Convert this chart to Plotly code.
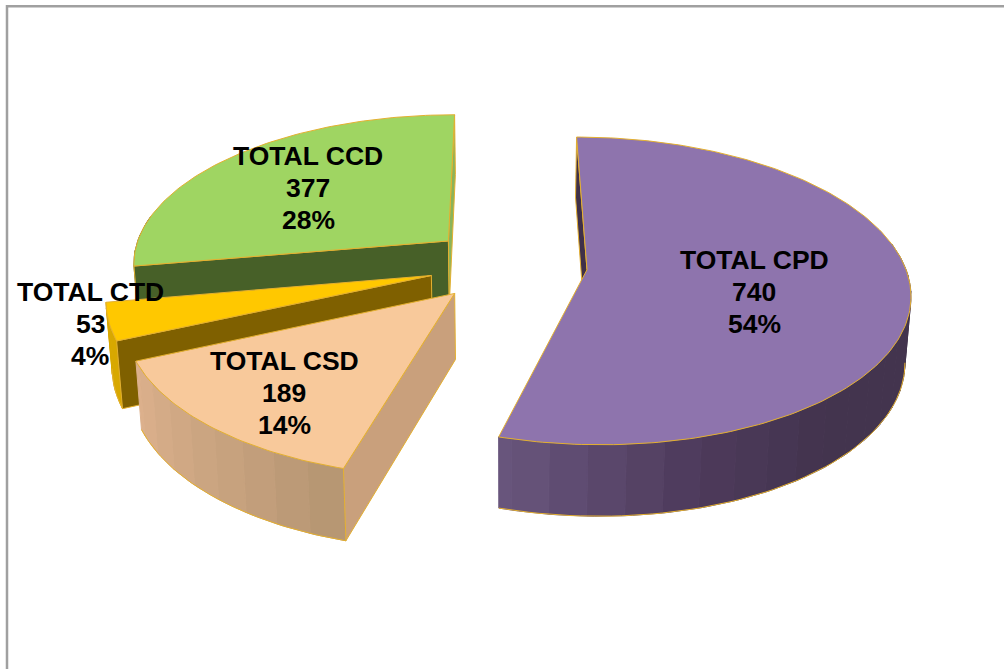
import numpy as np
import plotly.graph_objects as go

categories = ["TOTAL CPD", "TOTAL CSD", "TOTAL CTD", "TOTAL CCD"]
values = [740, 189, 53, 377]

# Style tables: view geometry and colours of the 3D exploded pie
TOP = {"TOTAL CPD": "#8e74ad", "TOTAL CSD": "#f8c99b", "TOTAL CTD": "#ffc800", "TOTAL CCD": "#9fd562"}
WALL_START = {"TOTAL CPD": "#3f3049", "TOTAL CSD": "#c9a07c", "TOTAL CTD": "#7f6000", "TOTAL CCD": "#476028"}
WALL_END = {"TOTAL CPD": "#3f3049", "TOTAL CSD": "#c9a07c", "TOTAL CTD": "#7f6000", "TOTAL CCD": "#8ab45a"}
RIM = {
    "TOTAL CPD": [(80, "#43344e"), (140, "#43344e"), (165, "#4e3b5c"), (194, "#68557c")],
    "TOTAL CSD": [(194, "#b39470"), (215, "#c6a17e"), (245, "#dcb08c")],
    "TOTAL CTD": [(244, "#d8a800"), (259, "#d8a800")],
    "TOTAL CCD": [(258, "#476028"), (360, "#476028")],
}
OUTLINE = "#e4b030"
LABEL_POS = {"TOTAL CPD": (754, 260), "TOTAL CSD": (284, 361), "TOTAL CTD": (90, 292), "TOTAL CCD": (308, 156)}
CX, CY, RX, RY, K, SKEW, EXPLODE, DEPTH, SHRINK = 508, 264.5, 317.5, 149.5, 0.137, 1, 0.25, 65, 0.985
RIM_FROM, RIM_TO, RIM_LINE_FROM = 80, 280, 100
LINE_GAP = 32
BAND_DEG = 6


def project(U, V, bottom=False):
    s = 1 / (1 - K * V)
    x = CX + (RX * U + SKEW * V) * s
    y = CY + RY * V * s
    if bottom:
        x = CX + (x - CX) * SHRINK
        y = y + DEPTH * (1 + 0.6 * (s - 1))
    return x, y


def hex_rgb(c):
    return np.array([int(c[i:i + 2], 16) for i in (1, 3, 5)], float)


def ramp(stops, t):
    ts = [a for a, _ in stops]
    cs = np.array([hex_rgb(c) for _, c in stops])
    rgb = [np.interp(t, ts, cs[:, i]) for i in range(3)]
    return "rgb(%d,%d,%d)" % tuple(rgb)


def poly(fig, x, y, fill, line=None, width=1):
    fig.add_trace(go.Scatter(
        x=list(x), y=list(y), mode="lines", fill="toself", fillcolor=fill,
        line=dict(color=line or fill, width=width), hoverinfo="skip", showlegend=False))


total = sum(values)
ends = np.cumsum(values) / total * 360
starts = np.concatenate([[0], ends[:-1]])
fig = go.Figure()

draw_order = ["TOTAL CCD", "TOTAL CTD", "TOTAL CSD", "TOTAL CPD"]
for name in draw_order:
    i = categories.index(name)
    a0, a1 = starts[i], ends[i]
    mid = np.radians((a0 + a1) / 2)
    ou, ov = EXPLODE * np.sin(mid), -EXPLODE * np.cos(mid)
    thetas = np.linspace(a0, a1, max(int(a1 - a0), 6) + 1)
    tr = np.radians(thetas)
    U, V = ou + np.sin(tr), ov - np.cos(tr)
    xt, yt = project(U, V)
    xb, yb = project(U, V, True)
    ax, ay = project(ou, ov)
    bx, by = project(ou, ov, True)

    # rim facets in bands, only on the side facing the viewer
    r0, r1 = max(a0, RIM_FROM), min(a1, RIM_TO)
    if r1 > r0:
        edges = np.arange(r0, r1 + BAND_DEG, BAND_DEG)
        edges[-1] = r1
        for t0, t1 in zip(edges[:-1], edges[1:]):
            if t1 <= t0:
                continue
            tt = np.radians(np.linspace(t0, t1, 6))
            u, v = ou + np.sin(tt), ov - np.cos(tt)
            xa, ya = project(u, v)
            xc, yc = project(u, v, True)
            col = ramp(RIM[name], (t0 + t1) / 2)
            poly(fig, list(xa) + list(xc[::-1]) + [xa[0]], list(ya) + list(yc[::-1]) + [ya[0]], col, col, 1)
        tt = np.radians(np.linspace(max(r0, RIM_LINE_FROM), r1, 60))
        xl, yl = project(ou + np.sin(tt), ov - np.cos(tt), True)
        fig.add_trace(go.Scatter(x=list(xl), y=list(yl), mode="lines", line=dict(color=OUTLINE, width=1),
                                 hoverinfo="skip", showlegend=False))

    # radial walls, only those that face the viewer
    if np.sin(np.radians(a0)) <= 1e-9:
        poly(fig, [ax, xt[0], xb[0], bx, ax], [ay, yt[0], yb[0], by, ay], WALL_START[name], OUTLINE)
    if np.sin(np.radians(a1)) >= -1e-9:
        poly(fig, [ax, xt[-1], xb[-1], bx, ax], [ay, yt[-1], yb[-1], by, ay], WALL_END[name], OUTLINE)

    # top face
    poly(fig, [ax] + list(xt) + [ax], [ay] + list(yt) + [ay], TOP[name], OUTLINE)

annotations = []
for name, val in zip(categories, values):
    x, y = LABEL_POS[name]
    for k, txt in enumerate([name, str(val), f"{round(val / total * 100)}%"]):
        annotations.append(dict(x=x, y=y + k * LINE_GAP, text=f"<b>{txt}</b>", showarrow=False,
                                xanchor="center", yanchor="middle",
                                font=dict(family="Liberation Sans, Arial, sans-serif", size=26.5, color="#000000")))

fig.update_layout(
    width=1004, height=669, margin=dict(l=0, r=0, t=0, b=0),
    paper_bgcolor="#ffffff", plot_bgcolor="#ffffff", showlegend=False,
    xaxis=dict(range=[0, 1004], visible=False, fixedrange=True),
    yaxis=dict(range=[669, 0], visible=False, fixedrange=True),
    annotations=annotations,
    shapes=[dict(type="rect", xref="x", yref="y", x0=7, y0=6.3, x1=1030, y1=700,
                 line=dict(color="#a0a0a0", width=2.5), layer="below")],
)
fig.write_html("out.html", config={"displayModeBar": False},
               post_script="document.body.style.margin='0';")
